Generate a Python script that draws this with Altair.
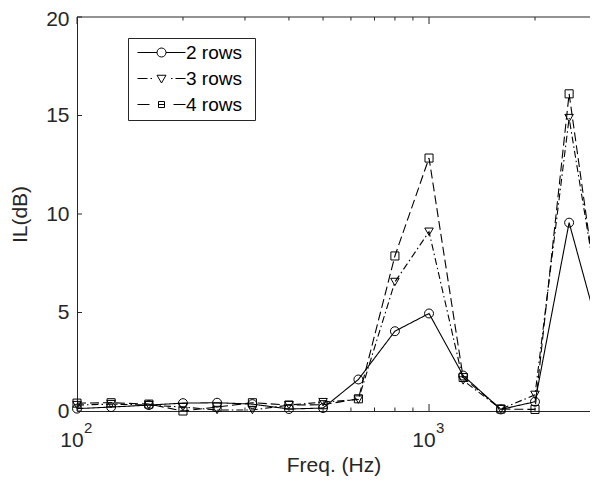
import altair as alt
import pandas as pd

# ---- data ----
freqs = [100, 125, 160, 200, 250, 315, 400, 500, 630, 800, 1000, 1250, 1600, 2000, 2500, 3150]
il_2_rows = [0.12, 0.2, 0.3, 0.4, 0.42, 0.35, 0.1, 0.15, 1.6, 4.05, 4.95, 1.8, 0.08, 0.47, 9.56, 3.0]
il_3_rows = [0.3, 0.35, 0.3, 0.2, 0.05, 0.05, 0.3, 0.45, 0.58, 6.55, 9.1, 1.55, 0.1, 0.82, 14.87, 3.9]
il_4_rows = [0.4, 0.42, 0.35, 0.0, 0.2, 0.42, 0.3, 0.32, 0.62, 7.87, 12.84, 1.7, 0.1, 0.08, 16.1, 3.3]
series_names = ["2 rows", "3 rows", "4 rows"]

x_major_ticks = [100, 1000]
x_major_base = ["10", "10"]
x_major_exp = ["2", "3"]
x_minor_ticks = [200, 300, 400, 500, 600, 700, 800, 900, 2000]
y_ticks = [0, 5, 10, 15, 20]
x_domain = [100, 2866]
y_domain = [0, 20]

# ---- styles ----
FONT = "Liberation Sans"
AX = "#262626"
W, H = 513, 394

rows = []
for name, vals in zip(series_names, [il_2_rows, il_3_rows, il_4_rows]):
    for f, v in zip(freqs, vals):
        rows.append({"freq": f, "il": v, "series": name})
df = pd.DataFrame(rows)

xs = alt.Scale(type="log", domain=x_domain, nice=False)
ys = alt.Scale(domain=y_domain, nice=False)

x_axis = alt.Axis(
    labels=False, ticks=False, tickSize=0, grid=False,
    domainColor=AX, domainWidth=1,
    title="Freq. (Hz)", titleFont=FONT, titleFontSize=21,
    titleFontWeight="normal", titleColor=AX, titlePadding=43)
y_axis = alt.Axis(
    values=y_ticks, ticks=False, tickSize=0, grid=False,
    labelFont=FONT, labelFontSize=21, labelColor=AX, labelPadding=8,
    labelOffset={"condition": {"test": "datum.value == 20", "value": 2}, "value": 0},
    domainColor=AX, domainWidth=1,
    title="IL(dB)", titleFont=FONT, titleFontSize=21,
    titleFontWeight="normal", titleColor=AX, titlePadding=15)

lines = alt.Chart(df).mark_line(clip=True, color="black", strokeWidth=1.1).encode(
    x=alt.X("freq:Q", scale=xs, axis=x_axis),
    y=alt.Y("il:Q", scale=ys, axis=y_axis),
    strokeDash=alt.StrokeDash("series:N", scale=alt.Scale(
        domain=series_names, range=[[1, 0], [7, 3, 1.5, 3], [9, 4]]), legend=None),
)

points = alt.Chart(df).mark_point(filled=False, color="black",
                                  strokeWidth=1, opacity=1).encode(
    x=alt.X("freq:Q", scale=xs, axis=x_axis),
    y=alt.Y("il:Q", scale=ys, axis=y_axis),
    shape=alt.Shape("series:N", scale=alt.Scale(
        domain=series_names, range=["circle", "triangle-down", "square"]), legend=None),
    size=alt.Size("series:N", scale=alt.Scale(
        domain=series_names, range=[80, 65, 45]), legend=None),
)

circle = "M-0.9,0A0.9,0.9,0,1,1,0.9,0A0.9,0.9,0,1,1,-0.9,0Z"
legend_paths = [
    "M-4.8,0L-0.9,0M0.9,0L4.8,0" + circle,
    "M-4.8,0L-2.8,0M-2.2,0L-1.9,0M1.9,0L2.2,0M2.8,0L4.8,0M-0.9,-0.65L0.9,-0.65L0,0.9Z",
    "M-4.8,0L-2.4,0M2.4,0L4.8,0M-0.6,0L0.6,0M-0.6,-0.6L0.6,-0.6L0.6,0.6L-0.6,0.6Z",
]

legend_layer = alt.Chart(df).transform_filter("false").mark_point(
    filled=False, color="black", opacity=1, strokeWidth=1, size=100).encode(
    x=alt.X("freq:Q", scale=xs, axis=x_axis),
    y=alt.Y("il:Q", scale=ys, axis=y_axis),
    shape=alt.Shape("series:N", scale=alt.Scale(domain=series_names, range=legend_paths),
                    legend=alt.Legend(
                        title="\u00a0", titleOrient="right", titlePadding=8,
                        titleFontSize=2,
                        orient="none", legendX=51, legendY=21,
                        symbolSize=100, symbolOffset=19, labelOffset=15,
                        labelFont=FONT, labelFontSize=19, labelColor="black",
                        rowPadding=6, padding=5, strokeColor=AX, fillColor="white",
                        symbolStrokeWidth=1, symbolStrokeColor="black",
                        symbolFillColor="transparent")),
)


def x_tick_layer(values, length, top):
    return alt.Chart(pd.DataFrame({"tick": values})).mark_tick(
        orient="vertical", size=length, thickness=1, color=AX, opacity=1,
        yOffset=(length / 2 if top else -length / 2)).encode(
        x=alt.X("tick:Q", scale=xs, axis=x_axis),
        y=alt.Y(datum=(y_domain[1] if top else y_domain[0]), scale=ys, axis=y_axis),
    )


y_tick_layer = alt.Chart(pd.DataFrame({"tick": y_ticks})).mark_tick(
    orient="horizontal", size=5, thickness=1, color=AX, opacity=1, xOffset=2.5).encode(
    y=alt.Y("tick:Q", scale=ys, axis=y_axis),
    x=alt.X(datum=x_domain[0], scale=xs, axis=x_axis),
)

top_border = alt.Chart(pd.DataFrame({"x0": [x_domain[0]], "x1": [x_domain[1]],
                                     "y": [y_domain[1]]})).mark_rule(
    color=AX, strokeWidth=1).encode(
    x=alt.X("x0:Q", scale=xs, axis=x_axis), x2="x1:Q",
    y=alt.Y("y:Q", scale=ys, axis=y_axis),
)

lab_df = pd.DataFrame({"tick": x_major_ticks, "base": x_major_base, "exp": x_major_exp})
lab_base = alt.Chart(lab_df).mark_text(
    font=FONT, fontSize=21, color=AX, align="center", baseline="alphabetic",
    dx=-5, dy=36).encode(
    x=alt.X("tick:Q", scale=xs, axis=x_axis),
    y=alt.Y(datum=y_domain[0], scale=ys, axis=y_axis),
    text="base:N",
)
lab_exp = alt.Chart(lab_df).mark_text(
    font=FONT, fontSize=15, color=AX, align="left", baseline="alphabetic",
    dx=7, dy=22).encode(
    x=alt.X("tick:Q", scale=xs, axis=x_axis),
    y=alt.Y(datum=y_domain[0], scale=ys, axis=y_axis),
    text="exp:N",
)

chart = alt.layer(
    lines, points, legend_layer,
    x_tick_layer(x_major_ticks, 7, False), x_tick_layer(x_minor_ticks, 3.5, False),
    x_tick_layer(x_major_ticks, 7, True), x_tick_layer(x_minor_ticks, 3.5, True),
    y_tick_layer, top_border, lab_base, lab_exp,
).resolve_scale(shape="independent", size="independent").properties(
    width=W, height=H,
    autosize=alt.AutoSizeParams(type="none"),
    padding={"left": 69, "top": 9, "right": 0, "bottom": 68},
    background="white",
).configure_view(stroke=None)

chart.save("out.html", embed_options={"renderer": "svg", "actions": False})
